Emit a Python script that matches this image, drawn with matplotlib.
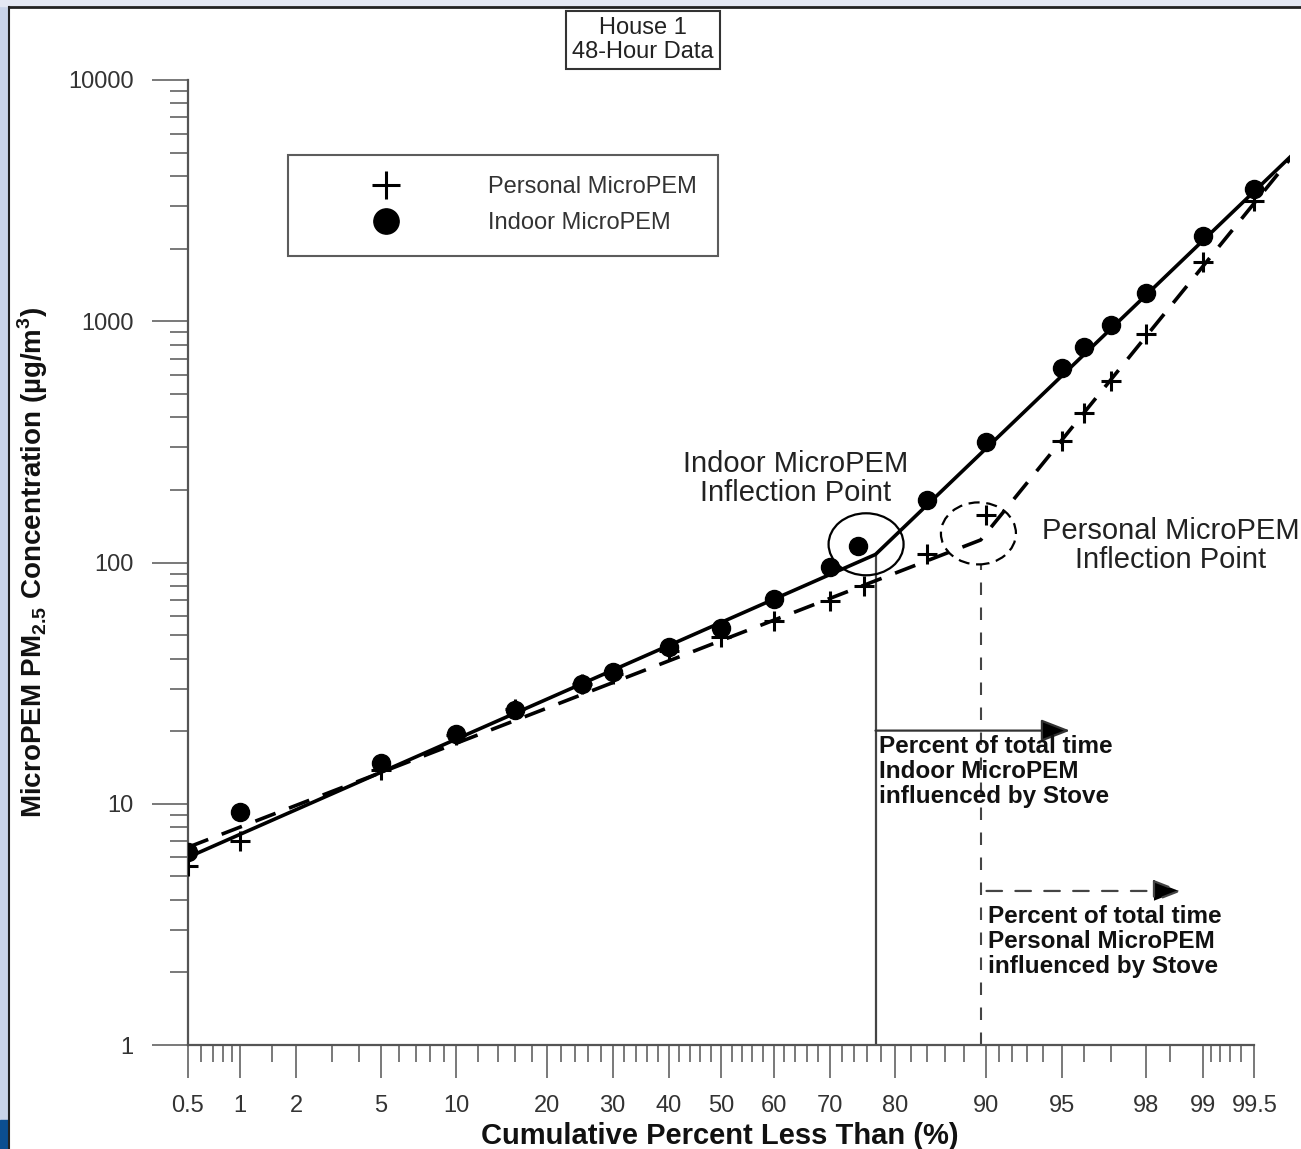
import matplotlib
matplotlib.use("Agg")
import matplotlib.pyplot as plt
import numpy as np
from matplotlib import transforms
from matplotlib.patches import Ellipse, Rectangle
from matplotlib.lines import Line2D
from statistics import NormalDist

plt.rcParams['font.family'] = ['Liberation Sans', 'DejaVu Sans']
plt.rcParams['mathtext.fontset'] = 'custom'
plt.rcParams['mathtext.rm'] = 'Liberation Sans'
plt.rcParams['mathtext.bf'] = 'Liberation Sans:bold'

# measured points (cumulative percent, concentration ug/m3)
indoor_pct = [0.5, 1, 5, 10, 16, 25, 30, 40, 50, 60, 70, 74.5, 84, 90, 95, 96, 97, 98, 99, 99.5]
indoor_conc = [6.3, 9.2, 14.7, 19.5, 24.5, 31.5, 35, 44.8, 53.7, 70.8, 96, 117, 181, 315,
               638, 779, 962, 1306, 2254, 3530]
personal_pct = [0.5, 1, 5, 10, 16, 25, 30, 40, 50, 60, 70, 75.5, 84, 90, 95, 96, 97, 98, 99, 99.5]
personal_conc = [5.5, 7.0, 13.8, 19.3, 24.8, 31.5, 34.5, 43, 49, 57, 69, 80, 108, 158,
                 318, 415, 564, 884, 1757, 3148]

# two-segment fit lines
indoor_fit_pct = [0.5, 77.2, 99.7]
indoor_fit_conc = [6.0, 108, 4790]
personal_fit_pct = [0.5, 89.5, 99.7]
personal_fit_conc = [6.6, 124, 4700]

# inflection points
indoor_inflect = (75.8, 119)
personal_inflect = (89.3, 132)

x_major = [0.5, 1, 2, 5, 10, 20, 30, 40, 50, 60, 70, 80, 90, 95, 98, 99, 99.5]
x_major_labels = ['0.5', '1', '2', '5', '10', '20', '30', '40', '50', '60', '70', '80',
                  '90', '95', '98', '99', '99.5']
x_minor = [0.6, 0.7, 0.8, 0.9, 1.5, 3, 4, 6, 7, 8, 9, 12, 14, 16, 18, 22, 24, 26, 28,
           32, 34, 36, 38, 42, 44, 46, 48, 52, 54, 56, 58, 62, 64, 66, 68, 72, 74, 76, 78,
           82, 84, 86, 88, 91, 92, 93, 94, 96, 97, 98.5, 99.1, 99.2, 99.3, 99.4]
y_major = [1, 10, 100, 1000, 10000]
y_major_labels = ['1', '10', '100', '1000', '10000']

_nd = NormalDist()
_ppf = np.vectorize(lambda v: _nd.inv_cdf(v / 100.0), otypes=[float])
_cdf = np.vectorize(lambda z: _nd.cdf(z) * 100.0, otypes=[float])


def probit(p):
    return _ppf(np.clip(np.asarray(p, dtype=float), 1e-6, 100 - 1e-6))


def probit_inv(z):
    return _cdf(np.asarray(z, dtype=float))


W, H = 1301, 1149
fig = plt.figure(figsize=(W / 100, H / 100), dpi=100)

# slide-like border
fig.add_artist(Rectangle((0, 0), 8 / W, 1, transform=fig.transFigure, color='#c9d4e9', zorder=0))
fig.add_artist(Rectangle((0, 1 - 6 / H), 1, 6 / H, transform=fig.transFigure, color='#e4e8f3', zorder=0))
fig.add_artist(Rectangle((0, 0), 8 / W, 29 / H, transform=fig.transFigure, color='#0b4e91', zorder=1))
fig.add_artist(Line2D([9 / W, 9 / W], [0, 1 - 7 / H], transform=fig.transFigure, color='#222', lw=1.5))
fig.add_artist(Line2D([9 / W, 1], [1 - 7 / H, 1 - 7 / H], transform=fig.transFigure, color='#222', lw=2))

ax = fig.add_axes([188 / W, 1 - 1045 / H, (1290 - 188) / W, (1045 - 80) / H])
ax.set_xscale('function', functions=(probit, probit_inv))
ax.set_yscale('log')

# fit lines
ax.plot(indoor_fit_pct, indoor_fit_conc, '-', color='k', lw=2.6, zorder=3)
ax.plot(personal_fit_pct, personal_fit_conc, color='k', lw=2.6, dashes=(6, 4), zorder=3)

# data
h_pers, = ax.plot(personal_pct, personal_conc, '+', ms=14, mew=2.2, color='k', zorder=4,
                  label='Personal MicroPEM')
h_ind, = ax.plot(indoor_pct, indoor_conc, 'o', ms=13, color='k', zorder=4,
                 label='Indoor MicroPEM')

# inflection drop lines
ax.plot([indoor_fit_pct[1]] * 2, [1, indoor_fit_conc[1]], color='#444', lw=1.6, zorder=2)
ax.plot([personal_fit_pct[1]] * 2, [1, 98], color='#444', lw=1.5, dashes=(6, 6), zorder=2)

# inflection circles
for (px, py), ls in [(indoor_inflect, '-'), (personal_inflect, (0, (5, 3)))]:
    trans = fig.dpi_scale_trans + transforms.ScaledTranslation(px, py, ax.transData)
    ax.add_artist(Ellipse((0, 0), 0.75, 0.62, transform=trans, fill=False,
                          ec='k', lw=1.6, ls=ls, zorder=5))

ax.text(64, 222, "Indoor MicroPEM\nInflection Point", fontsize=21, ha='center', va='center',
        linespacing=1.05, color='#222')
ax.text(98.5, 118, "Personal MicroPEM\nInflection Point", fontsize=21, ha='center',
        va='center', linespacing=1.05, color='#222', clip_on=False)

# arrows and notes
ax.annotate('', xy=(95.4, 20.1), xytext=(indoor_fit_pct[1], 20.1),
            arrowprops=dict(arrowstyle='-|>,head_length=0.9,head_width=0.35', color='#333',
                            fc='k', lw=1.6, shrinkA=0, shrinkB=0, mutation_scale=20))
ax.annotate('', xy=(98.7, 4.35), xytext=(90.0, 4.35),
            arrowprops=dict(arrowstyle='-|>,head_length=0.9,head_width=0.35', color='#444',
                            fc='k', lw=1.6, ls=(0, (7, 6)), shrinkA=0, shrinkB=0,
                            mutation_scale=20))
ax.text(77.7, 19.3, "Percent of total time\nIndoor MicroPEM\ninfluenced by Stove",
        fontsize=17.5, fontweight='bold', ha='left', va='top', linespacing=1.12, color='#111')
ax.text(90.1, 3.8, "Percent of total time\nPersonal MicroPEM\ninfluenced by Stove",
        fontsize=17.5, fontweight='bold', ha='left', va='top', linespacing=1.12, color='#111')

# axes
ax.set_xlim(0.5, 99.7)
ax.set_ylim(1, 10000)
ax.set_xticks(x_major, labels=x_major_labels)
ax.set_xticks(x_minor, minor=True)
ax.set_yticks(y_major, labels=y_major_labels)
ax.yaxis.set_minor_locator(matplotlib.ticker.LogLocator(base=10, subs=np.arange(2, 10)))
ax.yaxis.set_minor_formatter(matplotlib.ticker.NullFormatter())

for s in ['top', 'right']:
    ax.spines[s].set_visible(False)
ax.spines['left'].set_bounds(1, 10000)
ax.spines['bottom'].set_bounds(0.5, 99.5)
for s in ['left', 'bottom']:
    ax.spines[s].set_color('#555')
    ax.spines[s].set_linewidth(1.6)

ax.tick_params(axis='x', which='major', direction='out', length=24, width=1.1, color='#555',
               labelsize=17, labelcolor='#333', pad=12)
ax.tick_params(axis='x', which='minor', direction='out', length=12, width=1.1, color='#555')
ax.tick_params(axis='y', which='major', direction='out', length=26, width=1.1, color='#555',
               labelsize=17, labelcolor='#333', pad=13)
ax.tick_params(axis='y', which='minor', direction='out', length=13, width=1.1, color='#555')

ax.set_xlabel('Cumulative Percent Less Than (%)', fontsize=21, fontweight='bold', color='#111')
ax.xaxis.set_label_coords((720 - 188) / 1102, (1045 - 1122) / 965)
ax.set_ylabel(r'MicroPEM PM$_{\mathbf{2.5}}$ Concentration (µg/m$^{\mathbf{3}}$)',
              fontsize=20, fontweight='bold', color='#111')
ax.yaxis.set_label_coords((50 - 188) / 1102, 0.5)

leg = ax.legend(handles=[h_pers, h_ind], loc='upper left',
                bbox_to_anchor=(288 / W, 1 - 155 / H), bbox_transform=fig.transFigure,
                borderaxespad=0, fontsize=17, frameon=True, fancybox=False,
                borderpad=0.9, handlelength=6.5, handletextpad=1.05, labelspacing=0.6,
                markerscale=1.4)
leg.get_frame().set_edgecolor('#333')
leg.get_frame().set_linewidth(1.5)
for t in leg.get_texts():
    t.set_color('#333')

fig.text(643 / W, 1 - 40 / H, "House 1\n48-Hour Data", ha='center', va='center', fontsize=17,
         linespacing=1.12, color='#222',
         bbox=dict(boxstyle='square,pad=0.25', fc='white', ec='#333', lw=1.5))

fig.savefig('out.png', dpi=100)
